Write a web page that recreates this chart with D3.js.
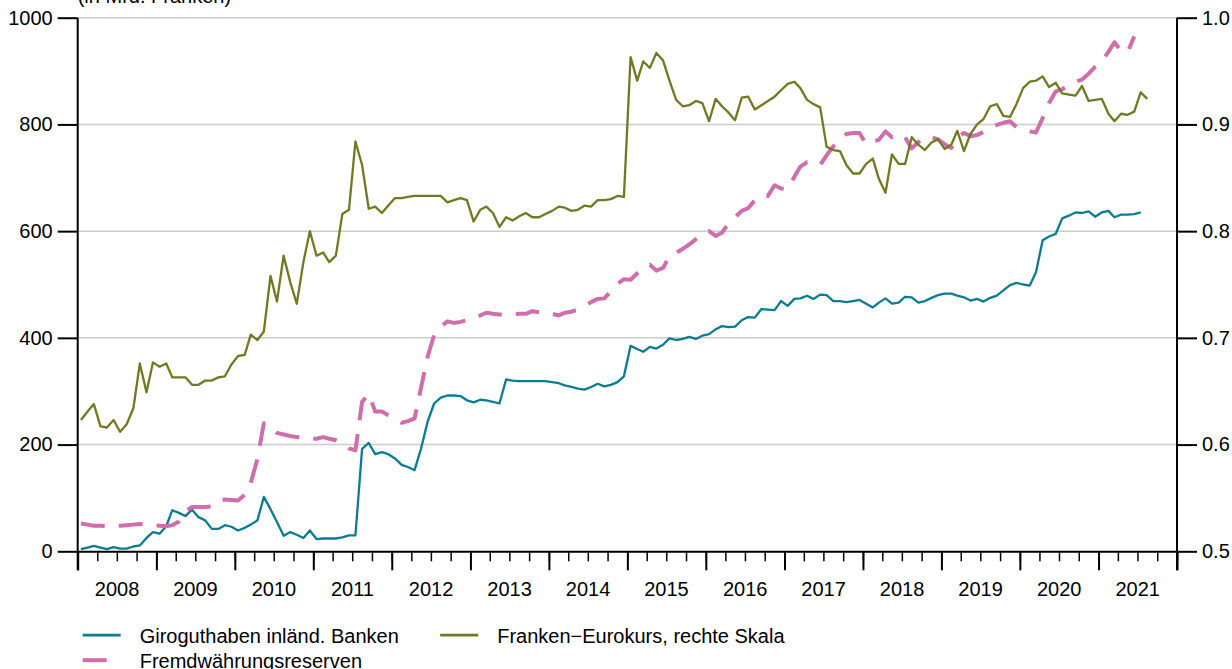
<!DOCTYPE html>
<html>
<head>
<meta charset="utf-8">
<script src="https://cdn.jsdelivr.net/npm/d3@7"></script>
<style>
  body { margin: 0; background: #fff; }
  text { font-family: "Liberation Sans", Arial, Helvetica, sans-serif; fill: #000; }
</style>
</head>
<body>
<svg id="chart" width="1232" height="669"></svg>
<script>
// monthly values, starting January 2008
var giro = [4, 7, 10, 7, 4, 8, 5, 5, 9, 11,
  25, 36, 33, 47, 77, 72, 66, 78, 64, 58,
  42, 42, 49, 46, 39, 44, 50, 58, 102, 79,
  55, 29, 36, 31, 25, 39, 23, 24, 24, 24,
  26, 30, 30, 192, 203, 182, 186, 182, 174, 162,
  158, 152, 192, 243, 277, 288, 292, 292, 291, 283,
  279, 284, 283, 280, 277, 322, 320, 319, 319, 319,
  319, 319, 317, 315, 311, 308, 305, 303, 308, 314,
  309, 312, 317, 328, 385, 379, 374, 383, 380, 387,
  399, 396, 398, 402, 398, 404, 407, 416, 422, 420,
  421, 433, 439, 438, 454, 453, 452, 469, 460, 473,
  474, 479, 473, 481, 480, 469, 469, 467, 469, 471,
  464, 457, 466, 474, 464, 466, 477, 476, 466, 469,
  475, 480, 483, 483, 479, 476, 470, 473, 468, 475,
  479, 489, 499, 503, 500, 498, 523, 583, 590, 595,
  624, 629, 635, 634, 637, 627, 635, 638, 626, 631,
  631, 632, 635];

var devisen = [52, 50, 48, 48, 47, 47, 48, 49, 50, 51,
  50, 49, 48, 47, 49, 56, 75, 83, 83, 83,
  84, 94, 97, 96, 95, 106, 128, 173, 240, 231,
  222, 219, 216, 214, 213, 211, 211, 214, 211, 208,
  203, 193, 189, 280, 295, 262, 262, 255, 249, 241,
  244, 249, 306, 365, 405, 421, 431, 428, 430, 433,
  437, 442, 447, 445, 444, 443, 444, 445, 445, 450,
  448, 447, 445, 442, 447, 449, 453, 459, 467, 473,
  474, 487, 501, 510, 509, 521, 531, 537, 526, 531,
  553, 559, 567, 575, 585, 595, 600, 591, 597, 615,
  626, 638, 643, 658, 667, 666, 686, 680, 679, 702,
  721, 729, 727, 724, 742, 759, 768, 782, 784, 784,
  763, 768, 771, 787, 776, 782, 776, 755, 767, 776,
  776, 772, 763, 756, 775, 784, 778, 780, 786, 794,
  799, 803, 806, 795, 790, 787, 785, 812, 840, 862,
  866, 874, 880, 884, 895, 908, 918, 936, 954, 938,
  935, 965];

var kurs = [0.623, 0.631, 0.638, 0.617, 0.616, 0.623, 0.612, 0.619, 0.634, 0.676,
  0.649, 0.677, 0.673, 0.676, 0.663, 0.663, 0.663, 0.656, 0.656, 0.660,
  0.660, 0.663, 0.664, 0.675, 0.683, 0.684, 0.703, 0.698, 0.706, 0.758,
  0.734, 0.777, 0.752, 0.732, 0.771, 0.800, 0.777, 0.780, 0.771, 0.777,
  0.816, 0.820, 0.884, 0.862, 0.821, 0.823, 0.817, 0.824, 0.831, 0.831,
  0.832, 0.833, 0.833, 0.833, 0.833, 0.833, 0.827, 0.829, 0.831, 0.829,
  0.809, 0.820, 0.823, 0.817, 0.804, 0.813, 0.810, 0.814, 0.817, 0.813,
  0.813, 0.816, 0.819, 0.823, 0.822, 0.819, 0.820, 0.824, 0.823, 0.829,
  0.829, 0.830, 0.833, 0.832, 0.963, 0.941, 0.959, 0.953, 0.967, 0.960,
  0.941, 0.923, 0.917, 0.918, 0.922, 0.920, 0.903, 0.924, 0.917, 0.911,
  0.904, 0.925, 0.926, 0.914, 0.918, 0.922, 0.926, 0.932, 0.938, 0.940,
  0.934, 0.923, 0.919, 0.916, 0.879, 0.876, 0.875, 0.862, 0.854, 0.854,
  0.863, 0.868, 0.849, 0.836, 0.872, 0.863, 0.863, 0.888, 0.881, 0.876,
  0.883, 0.886, 0.877, 0.881, 0.894, 0.875, 0.891, 0.900, 0.905, 0.917,
  0.919, 0.908, 0.907, 0.919, 0.934, 0.940, 0.941, 0.945, 0.935, 0.939,
  0.929, 0.928, 0.927, 0.936, 0.922, 0.923, 0.924, 0.910, 0.903, 0.910,
  0.909, 0.912, 0.930, 0.924];

var years = [2008, 2009, 2010, 2011, 2012, 2013, 2014, 2015, 2016, 2017, 2018, 2019, 2020, 2021];
var leftTicks = [0, 200, 400, 600, 800, 1000];
var rightTicks = [0.5, 0.6, 0.7, 0.8, 0.9, 1.0];
var names = ["Giroguthaben inländ. Banken", "Fremdwährungsreserven", "Franken\u2212Eurokurs, rechte Skala"];
var colors = ["#0b7c91", "#d06dab", "#6f7a22"];

var margin = {top: 17.7, right: 55, bottom: 117.7, left: 77.7},
    width = 1232 - margin.left - margin.right,
    height = 669 - margin.top - margin.bottom;

var svg = d3.select("#chart")
  .append("g")
    .attr("transform", "translate(" + margin.left + "," + margin.top + ")");

var x = d3.scaleTime()
    .domain([new Date(2008, 0, 1), new Date(2022, 0, 1)])
    .range([0, width]);

var yL = d3.scaleLinear().domain([0, 1000]).range([height, 0]);
var yR = d3.scaleLinear().domain([0.5, 1.0]).range([height, 0]);

function monthDate(i) { return new Date(2008, i, 16); }

// gridlines
svg.append("g").selectAll("line")
    .data(leftTicks.filter(function(d) { return d > 0; }))
  .enter().append("line")
    .attr("x1", 0).attr("x2", width)
    .attr("y1", function(d) { return yL(d); })
    .attr("y2", function(d) { return yL(d); })
    .style("stroke", "#cccccc")
    .style("stroke-width", 1.5);

// lines
var lineL = d3.line()
    .x(function(d, i) { return x(monthDate(i)); })
    .y(function(d) { return yL(d); });
var lineR = d3.line()
    .x(function(d, i) { return x(monthDate(i)); })
    .y(function(d) { return yR(d); });

svg.append("path")
    .datum(giro)
    .attr("d", lineL)
    .style("fill", "none")
    .style("stroke", colors[0])
    .style("stroke-width", 2.3)
    .style("stroke-linejoin", "round");

svg.append("path")
    .datum(devisen)
    .attr("d", lineL)
    .style("fill", "none")
    .style("stroke", colors[1])
    .style("stroke-width", 4)
    .style("stroke-dasharray", "24,14")
    .style("stroke-linejoin", "round");

svg.append("path")
    .datum(kurs)
    .attr("d", lineR)
    .style("fill", "none")
    .style("stroke", colors[2])
    .style("stroke-width", 2.3)
    .style("stroke-linejoin", "round");

// x axis: minor quarterly ticks, major yearly ticks
var quarters = d3.timeMonth.every(3).range(new Date(2008, 0, 1), new Date(2022, 0, 2));
var yearStarts = d3.timeYear.range(new Date(2008, 0, 1), new Date(2022, 0, 2));

svg.append("g")
    .attr("class", "x axis")
    .attr("transform", "translate(0," + height + ")")
    .call(d3.axisBottom(x).tickValues(quarters).tickSize(10).tickSizeOuter(0).tickFormat(""))
    .call(function(g) {
      g.select(".domain").style("stroke-width", 2);
      g.selectAll(".tick line").style("stroke-width", 1.5);
    });

svg.append("g")
    .attr("transform", "translate(0," + height + ")")
    .call(d3.axisBottom(x).tickValues(yearStarts).tickSize(19).tickSizeOuter(0).tickFormat(""))
    .call(function(g) {
      g.select(".domain").remove();
      g.selectAll(".tick line").style("stroke-width", 2);
    });

svg.append("g").selectAll("text")
    .data(years)
  .enter().append("text")
    .attr("x", function(d) { return x(new Date(d, 6, 2)); })
    .attr("y", height + 45)
    .style("text-anchor", "middle")
    .style("font-size", "20px")
    .text(function(d) { return d; });

// left axis
svg.append("g")
    .attr("class", "y axis")
    .call(d3.axisLeft(yL).tickValues(leftTicks).tickSize(20).tickPadding(5).tickSizeOuter(0)
      .tickFormat(d3.format("d")))
    .call(function(g) {
      g.select(".domain").remove();
      g.selectAll(".tick line").style("stroke-width", 2);
      g.selectAll(".tick text").style("font-size", "20px").attr("font-family", null);
    });

// right axis
svg.append("g")
    .attr("transform", "translate(" + width + ",0)")
    .call(d3.axisRight(yR).tickValues(rightTicks).tickSize(20).tickPadding(5).tickSizeOuter(0)
      .tickFormat(d3.format(".1f")))
    .call(function(g) {
      g.select(".domain").remove();
      g.selectAll(".tick line").style("stroke-width", 2);
      g.selectAll(".tick text").style("font-size", "20px").attr("font-family", null);
    });

// vertical axis lines reaching down to the major tick length
[0, width].forEach(function(xp) {
  svg.append("line")
      .attr("x1", xp).attr("x2", xp)
      .attr("y1", yL(1000)).attr("y2", height + 19)
      .style("stroke", "#000")
      .style("stroke-width", 2);
});

svg.append("text")
    .attr("x", 0)
    .attr("y", -15)
    .style("font-size", "20px")
    .text("(in Mrd. Franken)");

// legend
var legend = [
  {name: names[0], color: colors[0], dash: null, w: 2.7, x: 5, y: 617.5},
  {name: names[1], color: colors[1], dash: "24,14", w: 4, x: 5, y: 642.5},
  {name: names[2], color: colors[2], dash: null, w: 2.7, x: 362.5, y: 617.5}
];

var lg = svg.append("g").selectAll("g")
    .data(legend)
  .enter().append("g")
    .attr("transform", function(d) { return "translate(" + d.x + "," + d.y + ")"; });

lg.append("line")
    .attr("x1", 0).attr("x2", 38)
    .style("stroke", function(d) { return d.color; })
    .style("stroke-width", function(d) { return d.w; })
    .style("stroke-dasharray", function(d) { return d.dash; });

lg.append("text")
    .attr("x", 57)
    .attr("y", 7.5)
    .style("font-size", "20px")
    .text(function(d) { return d.name; });
</script>
</body>
</html>
